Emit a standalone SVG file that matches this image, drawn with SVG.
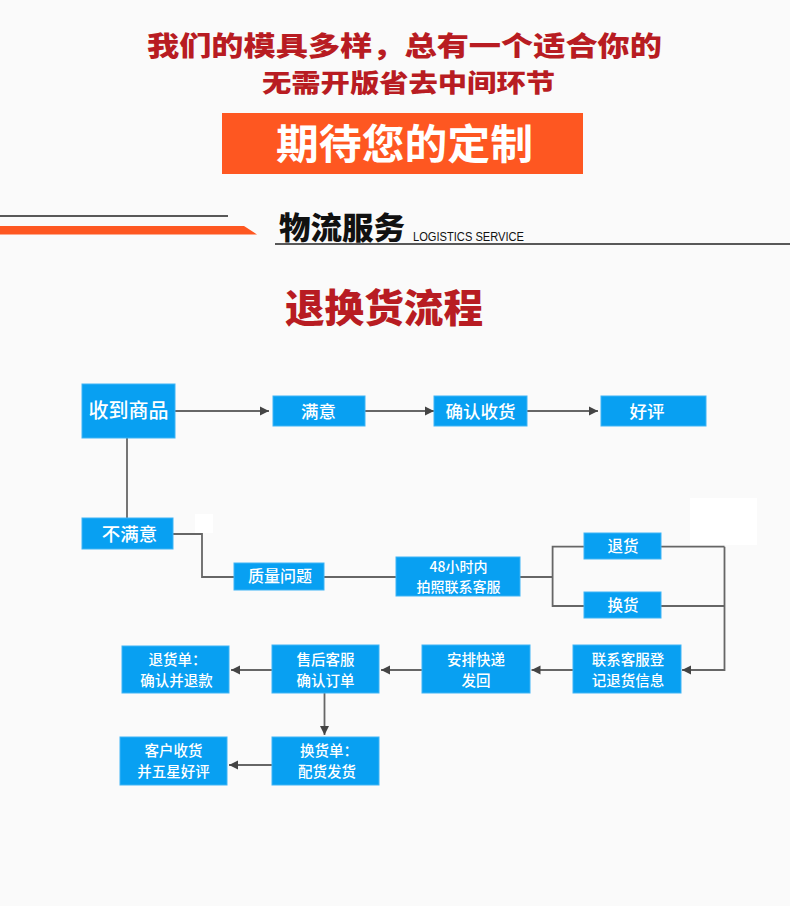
<svg xmlns="http://www.w3.org/2000/svg" width="790" height="906" viewBox="0 0 790 906">
<defs>
<marker id="arr" markerUnits="userSpaceOnUse" markerWidth="9" markerHeight="10" refX="9" refY="5" orient="auto">
<path d="M0,0.5 L9,5 L0,9.5 z" fill="#444"/>
</marker>
<style>
.cjk{font-family:"Noto Sans CJK SC","Noto Sans",sans-serif;}
.red{fill:#b81c22;font-weight:900;}
.box{fill:#08a0f2;stroke:#3fb4f5;stroke-width:1;}
.bt{fill:#fff;font-family:"Noto Sans CJK SC","Noto Sans",sans-serif;font-weight:500;text-anchor:middle;}
.ln{fill:none;stroke:#666;stroke-width:1.8;}
.ar{fill:none;stroke:#666;stroke-width:1.8;marker-end:url(#arr);}
</style>
</defs>
<rect x="0" y="0" width="790" height="906" fill="#fafafa"/>

<g id="header">
<text class="cjk red" x="404.5" y="55.5" font-size="27" text-anchor="middle" textLength="515" lengthAdjust="spacingAndGlyphs">我们的模具多样，总有一个适合你的</text>
<text class="cjk red" x="408.5" y="91.5" font-size="24.5" text-anchor="middle" textLength="293" lengthAdjust="spacingAndGlyphs">无需开版省去中间环节</text>
<rect x="222" y="113" width="361" height="61" fill="#fe5721"/>
<text class="cjk" x="404.5" y="159" font-size="41" font-weight="bold" fill="#fff" text-anchor="middle" textLength="257" lengthAdjust="spacingAndGlyphs">期待您的定制</text>
</g>

<g id="logistics">
<line x1="0" y1="216" x2="228" y2="216" stroke="#222" stroke-width="1.6"/>
<polygon points="0,226 244,226 257,234.5 0,234.5" fill="#fe5721"/>
<text class="cjk" x="279" y="239" font-size="31" font-weight="900" fill="#111" textLength="126" lengthAdjust="spacingAndGlyphs">物流服务</text>
<text x="413" y="241" font-family="Liberation Sans, Arial, sans-serif" font-size="12.5" fill="#111" textLength="111" lengthAdjust="spacingAndGlyphs">LOGISTICS SERVICE</text>
<line x1="275" y1="244" x2="790" y2="244" stroke="#222" stroke-width="1.6"/>
</g>

<g id="title">
<text class="cjk red" x="384" y="322" font-size="39" text-anchor="middle" textLength="198" lengthAdjust="spacingAndGlyphs">退换货流程</text>
</g>

<rect x="195" y="514" width="18" height="19" fill="#fff"/>
<rect x="690" y="498" width="67" height="47" fill="#fff"/>

<g id="connectors">
<line class="ar" x1="175" y1="411" x2="269" y2="411"/>
<line class="ar" x1="365" y1="411" x2="434" y2="411"/>
<line class="ar" x1="527" y1="411" x2="598" y2="411"/>
<line class="ln" x1="127" y1="438" x2="127" y2="518"/>
<polyline class="ln" points="173,534 202,534 202,577 234,577"/>
<line class="ln" x1="324" y1="577" x2="396" y2="577"/>
<line class="ln" x1="520" y1="577" x2="552.6" y2="577"/>
<polyline class="ln" points="584,546.7 552.6,546.7 552.6,606 584,606"/>
<line class="ln" x1="661" y1="546.7" x2="724.5" y2="546.7"/>
<line class="ln" x1="661" y1="606" x2="724.5" y2="606"/>
<polyline class="ar" points="724.5,546.7 724.5,670 682,670"/>
<line class="ar" x1="573" y1="670" x2="531.5" y2="670"/>
<line class="ar" x1="422" y1="670" x2="381" y2="670"/>
<line class="ar" x1="272" y1="670" x2="231" y2="670"/>
<line class="ar" x1="324.5" y1="693" x2="324.5" y2="735"/>
<line class="ar" x1="272" y1="765" x2="229" y2="765"/>
</g>

<g id="n-received">
<rect class="box" x="82" y="384" width="93" height="54"/>
<text class="bt" x="128.5" y="418" font-size="20">收到商品</text>
</g>
<g id="n-satisfied">
<rect class="box" x="273" y="396" width="92" height="30"/>
<text class="bt" x="318.5" y="417.5" font-size="17.5">满意</text>
</g>
<g id="n-confirm">
<rect class="box" x="434" y="396" width="93" height="30"/>
<text class="bt" x="480.5" y="417.5" font-size="17.5">确认收货</text>
</g>
<g id="n-praise">
<rect class="box" x="601" y="396" width="105" height="30"/>
<text class="bt" x="647" y="417.5" font-size="17.5">好评</text>
</g>
<g id="n-unsatisfied">
<rect class="box" x="82" y="518" width="91" height="31"/>
<text class="bt" x="129.5" y="540.5" font-size="18.5">不满意</text>
</g>
<g id="n-quality">
<rect class="box" x="234" y="563" width="90" height="27"/>
<text class="bt" x="280" y="582" font-size="16">质量问题</text>
</g>
<g id="n-48h">
<rect class="box" x="396" y="557" width="124" height="39"/>
<text class="bt" font-size="14"><tspan x="458.5" y="571.6">48小时内</tspan><tspan x="458.5" y="592.1">拍照联系客服</tspan></text>
</g>
<g id="n-return">
<rect class="box" x="584" y="533" width="77" height="26"/>
<text class="bt" x="623" y="551.5" font-size="15.5">退货</text>
</g>
<g id="n-exchange">
<rect class="box" x="584" y="592" width="77" height="26"/>
<text class="bt" x="623" y="610.5" font-size="15.5">换货</text>
</g>
<g id="n-contact">
<rect class="box" x="573" y="645" width="108" height="48"/>
<text class="bt" font-size="14.5"><tspan x="628" y="664.5">联系客服登</tspan><tspan x="628" y="685.8">记退货信息</tspan></text>
</g>
<g id="n-ship">
<rect class="box" x="422" y="645" width="108" height="48"/>
<text class="bt" font-size="14.5"><tspan x="476" y="664.5">安排快递</tspan><tspan x="476" y="685.8">发回</tspan></text>
</g>
<g id="n-aftersale">
<rect class="box" x="272" y="645" width="107" height="48"/>
<text class="bt" font-size="14.5"><tspan x="325.5" y="664.5">售后客服</tspan><tspan x="325.5" y="685.8">确认订单</tspan></text>
</g>
<g id="n-refund">
<rect class="box" x="122" y="646" width="107" height="47"/>
<text class="bt" font-size="14.5"><tspan x="177.5" y="664.5">退货单：</tspan><tspan x="176.5" y="685.8">确认并退款</tspan></text>
</g>
<g id="n-delivery">
<rect class="box" x="272" y="737" width="107" height="48"/>
<text class="bt" font-size="14.5"><tspan x="329" y="756">换货单：</tspan><tspan x="327" y="777.3">配货发货</tspan></text>
</g>
<g id="n-customer">
<rect class="box" x="120" y="737" width="107" height="48"/>
<text class="bt" font-size="14.5"><tspan x="173.5" y="756">客户收货</tspan><tspan x="173.5" y="777.3">并五星好评</tspan></text>
</g>
</svg>
